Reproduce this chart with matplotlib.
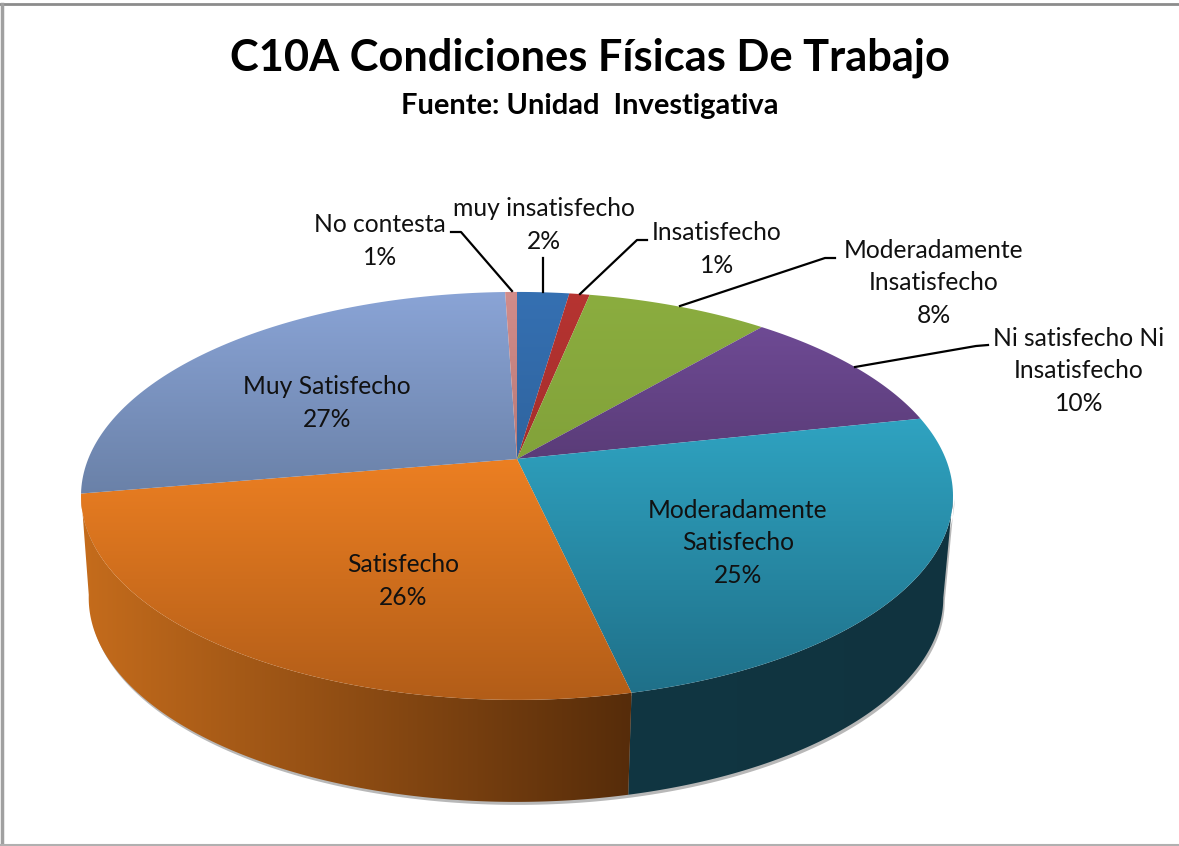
import numpy as np
import matplotlib
matplotlib.use('Agg')
import matplotlib.pyplot as plt
from matplotlib.patches import Polygon

# Slices, clockwise from 12 o'clock
categories = ['muy insatisfecho', 'Insatisfecho', 'Moderadamente\nInsatisfecho',
              'Ni satisfecho Ni\nInsatisfecho', 'Moderadamente\nSatisfecho',
              'Satisfecho', 'Muy Satisfecho', 'No contesta']
values = [2.3, 0.9, 8.05, 10.35, 24.88, 25.82, 27.2, 0.52]

top_colors = ['#3570b2', '#b63431', '#8bad3f', '#6e4a94', '#2fa3c1', '#ec7f22', '#8aa4d6', '#d28c8a']
bottom_colors = ['#2f649f', '#a52e2c', '#82a23a', '#5a3c78', '#1f7089', '#b25d18', '#6a81a8', '#b87a78']

# label centre (px), then leader line points (px)
label_pos = [(544, 225), (717, 249), (934, 283), (1079, 371), (738, 543), (403, 581), (327, 403), (380, 241)]
leaders = [[(543, 258), (543, 292)],
           [(647, 240), (637, 240), (580, 294)],
           [(835, 258), (825, 258), (680, 306)],
           [(988, 345), (976, 346), (855, 367)],
           None, None, None,
           [(451, 232), (461, 232), (512, 291)]]

cx, cy = 517, 459
kp, ay, bx = 0.181, 197.3, 428.8
depth, shrink, shift = 102, 0.98, -1


def project(deg):
    t = np.radians(deg)
    X, Y = np.sin(t), np.cos(t)
    w = 1 + kp * Y
    return cx + bx * X / w, cy - ay * Y / w


def gradient_fill(ax, poly, c0, c1, horizontal=False):
    xs, ys = poly[:, 0], poly[:, 1]
    c0 = np.array(matplotlib.colors.to_rgb(c0))
    c1 = np.array(matplotlib.colors.to_rgb(c1))
    f = np.linspace(0, 1, 256)[:, None]
    img = c0 + (c1 - c0) * f
    img = img[None, :, :] if horizontal else img[:, None, :]
    patch = Polygon(poly, closed=True, transform=ax.transData, fc='none', ec='none')
    ax.add_patch(patch)
    im = ax.imshow(img, extent=(xs.min(), xs.max(), ys.max(), ys.min()), aspect='auto',
                   interpolation='bilinear', zorder=2)
    im.set_clip_path(patch)


def side_poly(a0, a1):
    ang = np.linspace(a0, a1, 200)
    x, y = project(ang)
    xb = cx + (x - cx) * shrink + shift
    yb = y + depth
    return np.vstack([np.column_stack([x, y]), np.column_stack([xb, yb])[::-1]])


fig = plt.figure(figsize=(11.79, 8.46), dpi=100)
ax = fig.add_axes([0, 0, 1, 1])
ax.set_xlim(0, 1179)
ax.set_ylim(846, 0)
ax.axis('off')
plt.rcParams['font.family'] = ['Lato', 'DejaVu Sans']

# chart frame
ax.plot([0, 1179], [4, 4], color='#8c8c8c', lw=2, zorder=1)
ax.plot([2, 2], [4, 846], color='#a0a0a0', lw=2.5, zorder=1)
ax.plot([0, 1179], [845.5, 845.5], color='#b0b0b0', lw=1.5, zorder=1)

ax.text(590, 58, 'C10A Condiciones Físicas De Trabajo', ha='center', va='center',
        fontsize=31.2, fontweight='bold', color='black')
ax.text(590, 106, 'Fuente: Unidad  Investigativa', ha='center', va='center',
        fontsize=20.9, fontweight='bold', color='black')

edges = np.cumsum([0] + values) / sum(values) * 360

# walls, only the front part of the pie shows
front_start = 100.4
front_end = 260.4
wall = side_poly(front_start, front_end)
ax.add_patch(Polygon(wall + [1.5, 3], closed=True, fc='#9a9a9a', ec='none', alpha=0.7, zorder=1.5))
gradient_fill(ax, side_poly(front_start, edges[5]), '#113642', '#10333f', horizontal=True)
gradient_fill(ax, side_poly(edges[5], front_end), '#c56c1c', '#562c0a', horizontal=True)

# top of the pie
for i, v in enumerate(values):
    ang = np.linspace(edges[i], edges[i + 1], 100)
    x, y = project(ang)
    poly = np.vstack([[cx, cy], np.column_stack([x, y])])
    gradient_fill(ax, poly, top_colors[i], bottom_colors[i])

# labels and leader lines
for i, name in enumerate(categories):
    ax.text(label_pos[i][0], label_pos[i][1], f'{name}\n{values[i]:.0f}%', ha='center', va='center',
            fontsize=17.7, color='#111111', linespacing=1.5, zorder=5)
    if leaders[i] is not None:
        pts = np.array(leaders[i])
        ax.plot(pts[:, 0], pts[:, 1], color='black', lw=1.6, zorder=4)

fig.savefig('out.png', dpi=100)
